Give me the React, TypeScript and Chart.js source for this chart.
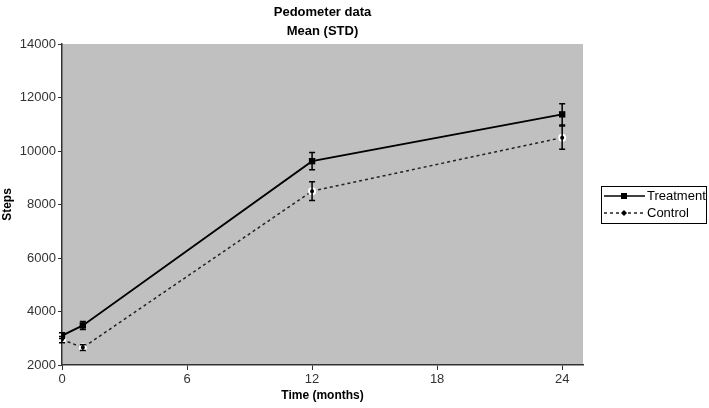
import React, { useEffect, useRef } from "react";
import { Chart, registerables } from "chart.js";

Chart.register(...registerables);

const months = [0, 1, 12, 24];
const treatmentMean = [3100, 3480, 9620, 11370];
const treatmentStd = [110, 150, 320, 400];
const controlMean = [2950, 2650, 8500, 10500];
const controlStd = [120, 110, 350, 430];
const xTicks = [0, 6, 12, 18, 24];
const yTicks = [2000, 4000, 6000, 8000, 10000, 12000, 14000];
const titleLines = ["Pedometer data", "Mean (STD)"];
const seriesNames = ["Treatment", "Control"];

const FONT = "Arial, 'Liberation Sans', sans-serif";

const bgPlugin = {
  id: "plotBg",
  beforeDraw(chart: any) {
    const { ctx, chartArea: a } = chart;
    ctx.save();
    ctx.fillStyle = "#c0c0c0";
    ctx.fillRect(a.left, a.top, a.right - a.left, a.bottom - a.top);
    ctx.restore();
  },
};

const errPlugin = {
  id: "errBars",
  afterDatasetsDraw(chart: any) {
    const { ctx } = chart;
    const xs = chart.scales.x;
    const ys = chart.scales.y;
    const sets = [
      { m: treatmentMean, s: treatmentStd },
      { m: controlMean, s: controlStd },
    ];
    ctx.save();
    ctx.strokeStyle = "#000";
    ctx.lineWidth = 1.5;
    sets.forEach(({ m, s }) => {
      months.forEach((t, i) => {
        const x = xs.getPixelForValue(t);
        const y1 = ys.getPixelForValue(m[i] + s[i]);
        const y2 = ys.getPixelForValue(m[i] - s[i]);
        ctx.beginPath();
        ctx.moveTo(x, y1);
        ctx.lineTo(x, y2);
        ctx.moveTo(x - 3, y1);
        ctx.lineTo(x + 3, y1);
        ctx.moveTo(x - 3, y2);
        ctx.lineTo(x + 3, y2);
        ctx.stroke();
      });
    });
    ctx.restore();
  },
};

const titleLegendPlugin = {
  id: "titleLegend",
  afterDraw(chart: any) {
    const { ctx, chartArea: a } = chart;
    ctx.save();
    ctx.fillStyle = "#000";
    ctx.font = `bold 13px ${FONT}`;
    ctx.textAlign = "center";
    ctx.textBaseline = "middle";
    const cx = (a.left + a.right) / 2;
    ctx.fillText(titleLines[0], cx, 12);
    ctx.fillText(titleLines[1], cx, 31);

    // legend
    const bx = a.right + 18;
    const by = 186;
    const bw = 105;
    const bh = 37;
    ctx.fillStyle = "#fff";
    ctx.fillRect(bx, by, bw, bh);
    ctx.strokeStyle = "#000";
    ctx.lineWidth = 1;
    ctx.strokeRect(bx + 0.5, by + 0.5, bw, bh);
    const rows = [by + 10, by + 27];
    ctx.lineWidth = 1.5;
    ctx.setLineDash([]);
    ctx.beginPath();
    ctx.moveTo(bx + 3, rows[0]);
    ctx.lineTo(bx + 44, rows[0]);
    ctx.stroke();
    ctx.fillStyle = "#000";
    ctx.fillRect(bx + 20, rows[0] - 3, 6, 6);
    ctx.strokeStyle = "#222";
    ctx.setLineDash([3, 3]);
    ctx.beginPath();
    ctx.moveTo(bx + 3, rows[1]);
    ctx.lineTo(bx + 44, rows[1]);
    ctx.stroke();
    ctx.setLineDash([]);
    ctx.beginPath();
    ctx.moveTo(bx + 23, rows[1] - 3);
    ctx.lineTo(bx + 26, rows[1]);
    ctx.lineTo(bx + 23, rows[1] + 3);
    ctx.lineTo(bx + 20, rows[1]);
    ctx.closePath();
    ctx.fill();
    ctx.font = `13px ${FONT}`;
    ctx.textAlign = "left";
    ctx.fillStyle = "#000";
    ctx.fillText(seriesNames[0], bx + 46, rows[0]);
    ctx.fillText(seriesNames[1], bx + 46, rows[1]);
    ctx.restore();
  },
};

export default function App() {
  const ref = useRef<HTMLCanvasElement>(null);
  useEffect(() => {
    if (!ref.current) return;
    const chart = new Chart(ref.current, {
      type: "line",
      data: {
        datasets: [
          {
            label: seriesNames[0],
            data: months.map((t, i) => ({ x: t, y: treatmentMean[i] })),
            borderColor: "#000",
            backgroundColor: "#000",
            borderWidth: 1.8,
            pointStyle: "rect",
            pointRadius: 4.5,
            pointBorderWidth: 0,
            tension: 0,
          },
          {
            label: seriesNames[1],
            data: months.map((t, i) => ({ x: t, y: controlMean[i] })),
            borderColor: "#222",
            backgroundColor: "#000",
            borderWidth: 1.5,
            borderDash: [3, 3],
            pointStyle: "circle",
            pointRadius: 3,
            pointBorderColor: "#fff",
            pointBorderWidth: 2,
            tension: 0,
          },
        ],
      },
      options: {
        animation: false,
        responsive: false,
        layout: { padding: { top: 44, right: 126, left: 0, bottom: 0 } },
        plugins: {
          legend: { display: false },
          title: { display: false },
          tooltip: { enabled: false },
        },
        scales: {
          x: {
            type: "linear",
            min: 0,
            max: 25,
            afterBuildTicks: (s: any) => {
              s.ticks = xTicks.map((v) => ({ value: v }));
            },
            afterFit: (s: any) => {
              s.height = 43;
            },
            grid: {
              drawOnChartArea: false,
              color: "#333",
              tickLength: 5,
              lineWidth: 1,
            },
            border: { color: "#333", width: 1.5 },
            ticks: {
              color: "#333",
              font: { family: FONT, size: 13 },
              padding: 2,
              maxRotation: 0,
              callback: (v: any) => String(v),
            },
            title: {
              display: true,
              text: "Time (months)",
              color: "#000",
              font: { family: FONT, size: 12, weight: "bold" },
              padding: { top: 2, bottom: 5 },
            },
          },
          y: {
            type: "linear",
            min: 2000,
            max: 14000,
            afterBuildTicks: (s: any) => {
              s.ticks = yTicks.map((v) => ({ value: v }));
            },
            afterFit: (s: any) => {
              s.width = 62;
            },
            grid: {
              drawOnChartArea: false,
              color: "#333",
              tickLength: 4,
            },
            border: { color: "#333", width: 1.5 },
            ticks: {
              color: "#333",
              font: { family: FONT, size: 13 },
              padding: 2,
              callback: (v: any) => String(v),
            },
            title: {
              display: true,
              text: "Steps",
              color: "#000",
              font: { family: FONT, size: 12, weight: "bold" },
              padding: { top: 0, bottom: 0 },
            },
          },
        },
      },
      plugins: [bgPlugin, errPlugin, titleLegendPlugin],
    });
    return () => chart.destroy();
  }, []);
  return (
    <div style={{ position: "fixed", left: 0, top: 0, width: 709, height: 408, background: "#fff" }}>
      <canvas ref={ref} width={709} height={408} style={{ width: 709, height: 408, display: "block" }} />
    </div>
  );
}
